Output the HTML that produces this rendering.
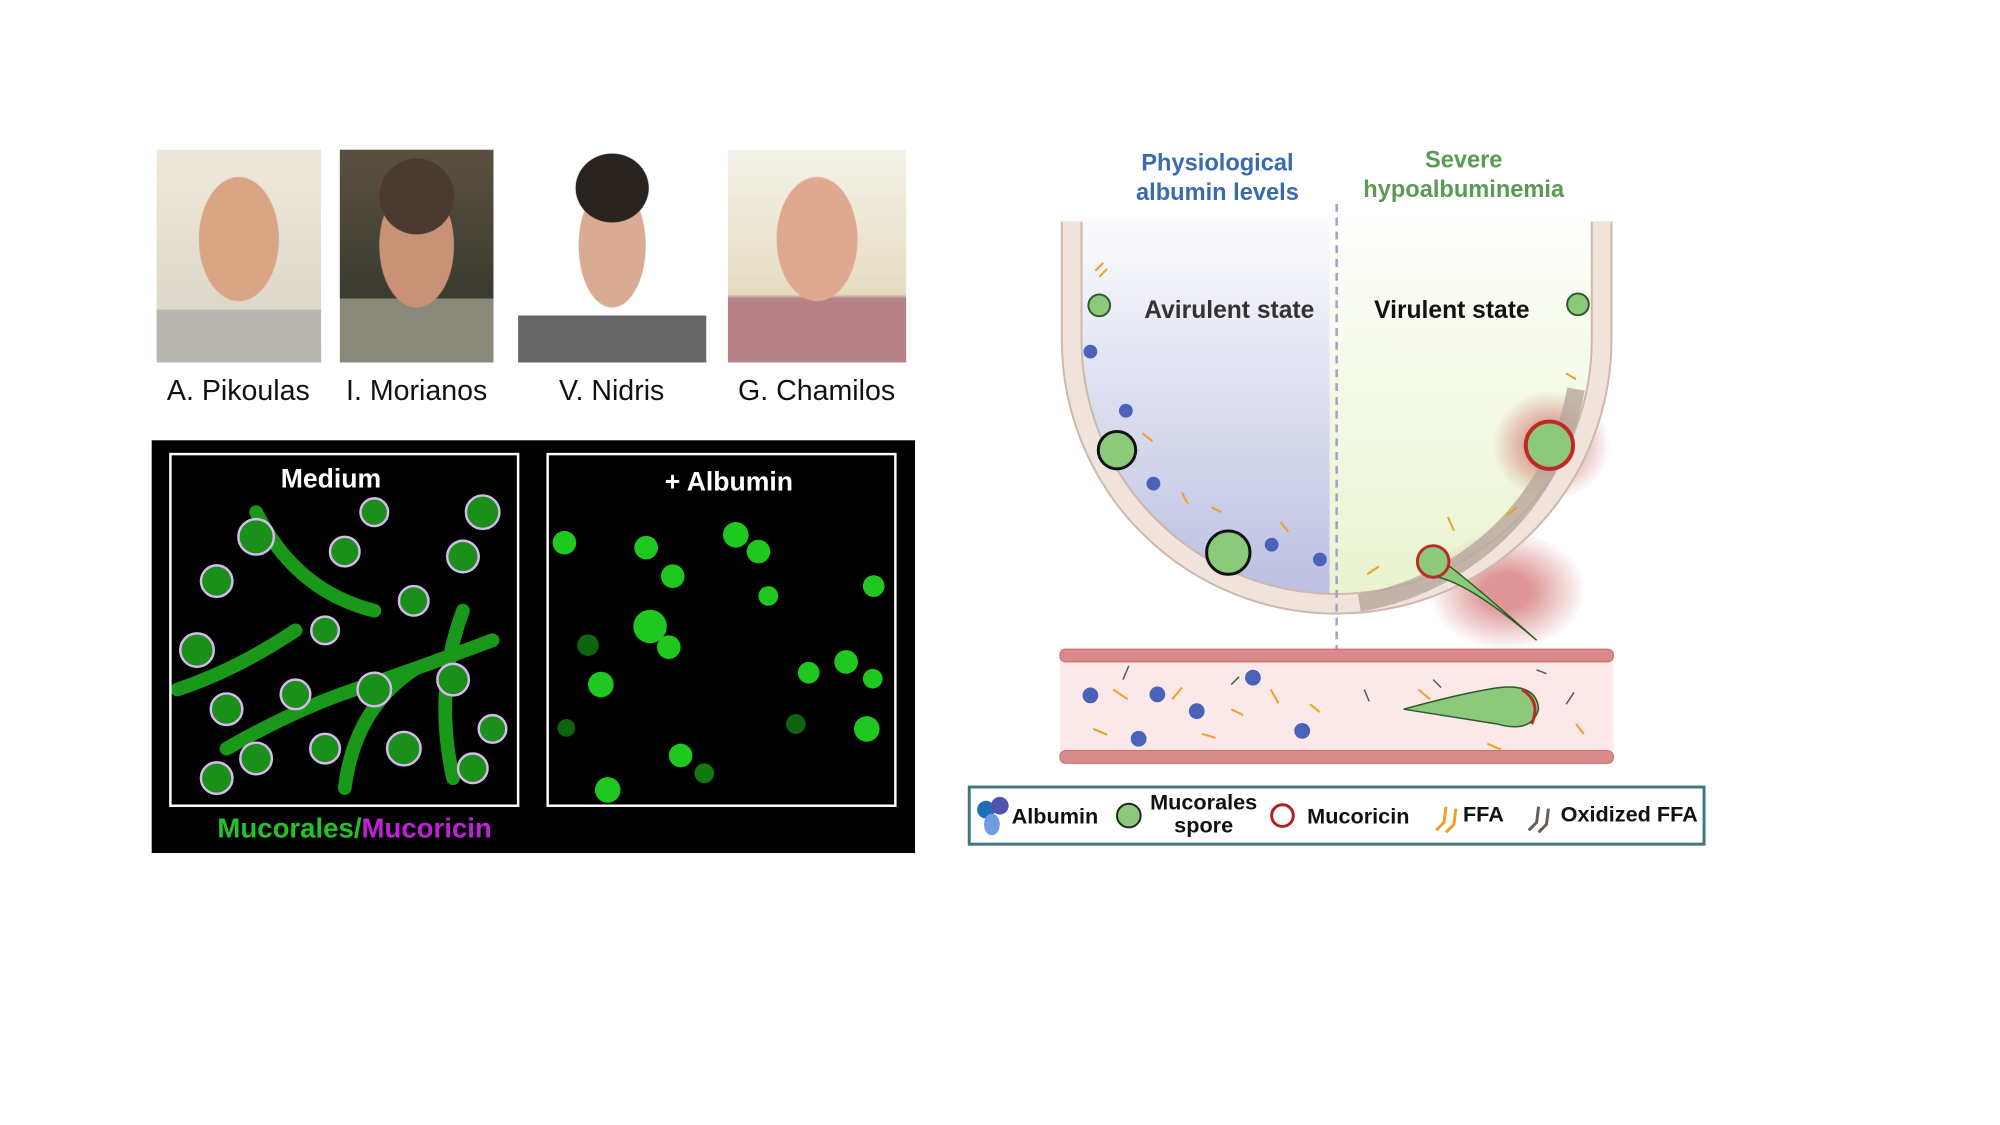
<!DOCTYPE html>
<html><head><meta charset="utf-8"><style>
body{margin:0;width:2000px;height:1125px;background:#fff;overflow:hidden;position:relative;font-family:"Liberation Sans",Arial,sans-serif}
#w{position:absolute;left:0;top:0;width:2000px;height:1125px;transform:scale(0.985);transform-origin:0 0}
.ph{position:absolute;top:152px;height:216px}
.nm{position:absolute;top:381px;font-size:29px;color:#111;transform:translateX(-50%);white-space:nowrap}
</style></head><body><div id="w">
<div class="ph" style="left:159px;width:167px;background:radial-gradient(ellipse 30% 36% at 50% 42%,#d9a585 0 80%,transparent 82%),linear-gradient(180deg,transparent 75%,#b9b6b0 75%),linear-gradient(#efe8da,#d8d2c8)"></div>
<div class="ph" style="left:345px;width:156px;background:radial-gradient(ellipse 30% 22% at 50% 22%,#4a3a30 0 80%,transparent 82%),radial-gradient(ellipse 30% 36% at 50% 45%,#c99277 0 80%,transparent 82%),linear-gradient(#5a5040,#3a3a30 70%,#8a8878 70%)"></div>
<div class="ph" style="left:526px;width:191px;background:radial-gradient(ellipse 24% 20% at 50% 18%,#2a2420 0 80%,transparent 82%),radial-gradient(ellipse 22% 36% at 50% 45%,#d8ab92 0 80%,transparent 82%),linear-gradient(#fff 78%,#666 78%)"></div>
<div class="ph" style="left:739px;width:181px;background:radial-gradient(ellipse 28% 36% at 50% 42%,#e0a88e 0 80%,transparent 82%),linear-gradient(#f4f2ea,#e5dcc0 68%,#b58086 70%)"></div>
<div class="nm" style="left:242px">A. Pikoulas</div>
<div class="nm" style="left:423px">I. Morianos</div>
<div class="nm" style="left:621px">V. Nidris</div>
<div class="nm" style="left:829px">G. Chamilos</div>

<svg style="position:absolute;left:0;top:0" width="2000" height="1125">
<rect x="154" y="447" width="775" height="419" fill="#000"/>
<g stroke="#1fb31f" stroke-width="14" fill="none" stroke-linecap="round" opacity="0.85">
<path d="M230 760 Q300 720 360 700 T500 650"/><path d="M260 520 Q300 600 380 620"/><path d="M350 800 Q360 720 420 680"/><path d="M180 700 Q240 680 300 640"/><path d="M470 620 Q440 700 460 790"/>
</g>
<g fill="#1a8f1a" stroke="#d9b8f0" stroke-width="2.5">
<circle cx="260" cy="545" r="18"/><circle cx="220" cy="590" r="16"/><circle cx="350" cy="560" r="15"/><circle cx="490" cy="520" r="17"/><circle cx="470" cy="565" r="16"/><circle cx="420" cy="610" r="15"/><circle cx="330" cy="640" r="14"/><circle cx="200" cy="660" r="17"/><circle cx="230" cy="720" r="16"/><circle cx="300" cy="705" r="15"/><circle cx="380" cy="700" r="17"/><circle cx="460" cy="690" r="16"/><circle cx="260" cy="770" r="16"/><circle cx="330" cy="760" r="15"/><circle cx="410" cy="760" r="17"/><circle cx="480" cy="780" r="15"/><circle cx="220" cy="790" r="16"/><circle cx="380" cy="520" r="14"/><circle cx="500" cy="740" r="14"/>
</g>
<g fill="#1ec81e">
<circle cx="573" cy="551" r="12"/><circle cx="656" cy="556" r="12"/><circle cx="747" cy="543" r="13"/><circle cx="770" cy="560" r="12"/><circle cx="683" cy="585" r="12"/><circle cx="660" cy="636" r="17"/><circle cx="679" cy="657" r="12"/><circle cx="780" cy="605" r="10"/><circle cx="887" cy="595" r="11"/><circle cx="859" cy="672" r="12"/><circle cx="610" cy="695" r="13"/><circle cx="821" cy="683" r="11"/><circle cx="886" cy="689" r="10"/><circle cx="691" cy="767" r="12"/><circle cx="880" cy="740" r="13"/><circle cx="617" cy="802" r="13"/><circle cx="715" cy="785" r="10" opacity=".6"/><circle cx="597" cy="655" r="11" opacity=".5"/><circle cx="808" cy="735" r="10" opacity=".5"/><circle cx="575" cy="739" r="9" opacity=".5"/>
</g>
<rect x="173" y="461" width="353" height="357" fill="none" stroke="#fff" stroke-width="2.5"/>
<rect x="556" y="461" width="353" height="357" fill="none" stroke="#fff" stroke-width="2.5"/>
<text x="336" y="495" fill="#fff" font-size="27" font-weight="bold" text-anchor="middle">Medium</text>
<text x="740" y="498" fill="#fff" font-size="27" font-weight="bold" text-anchor="middle">+ Albumin</text>
<text x="360" y="850" font-size="28" font-weight="bold" text-anchor="middle"><tspan fill="#22c322">Mucorales/</tspan><tspan fill="#c020d8">Mucoricin</tspan></text>

<defs>
<linearGradient id="lg" x1="0" y1="0" x2="0" y2="1"><stop offset="0" stop-color="#fff"/><stop offset="1" stop-color="#b9bde0"/></linearGradient>
<linearGradient id="rg" x1="0" y1="0" x2="0" y2="1"><stop offset="0" stop-color="#fff"/><stop offset="1" stop-color="#e8f3cc"/></linearGradient>
<radialGradient id="halo"><stop offset="0.3" stop-color="#c85050" stop-opacity=".6"/><stop offset="1" stop-color="#c85050" stop-opacity="0"/></radialGradient>
<clipPath id="bowl"><path d="M1088 220 L1088 345 A269 268 0 0 0 1626 345 L1626 220 Z"/></clipPath>
</defs>
<g clip-path="url(#bowl)"><rect x="1080" y="200" width="270" height="420" fill="url(#lg)"/><rect x="1350" y="200" width="290" height="420" fill="url(#rg)"/></g>
<ellipse cx="1530" cy="600" rx="80" ry="60" fill="url(#halo)"/>
<ellipse cx="1575" cy="452" rx="60" ry="55" fill="url(#halo)"/>
<path d="M1088 225 L1088 345 A269 268 0 0 0 1626 345 L1626 225" fill="none" stroke="#ccb8ac" stroke-width="22"/>
<path d="M1088 225 L1088 345 A269 268 0 0 0 1626 345 L1626 225" fill="none" stroke="#efe3dc" stroke-width="18"/>
<path d="M1600 395 A269 268 0 0 1 1380 612" fill="none" stroke="#b8a79d" stroke-width="18" opacity=".8"/>
<line x1="1357" y1="207" x2="1357" y2="775" stroke="#a89cc8" stroke-width="2.5" stroke-dasharray="8,6"/>
<text x="1236" y="173" fill="#3a6bb0" font-size="24" font-weight="bold" text-anchor="middle">Physiological</text>
<text x="1236" y="203" fill="#3a6bb0" font-size="24" font-weight="bold" text-anchor="middle">albumin levels</text>
<text x="1486" y="170" fill="#5a9a55" font-size="24" font-weight="bold" text-anchor="middle">Severe</text>
<text x="1486" y="200" fill="#5a9a55" font-size="24" font-weight="bold" text-anchor="middle">hypoalbuminemia</text>
<text x="1248" y="323" fill="#333" font-size="25" font-weight="bold" text-anchor="middle">Avirulent state</text>
<text x="1474" y="323" fill="#111" font-size="25" font-weight="bold" text-anchor="middle">Virulent state</text>
<g fill="#8cc97a" stroke="#2d5a2a" stroke-width="2">
<circle cx="1116" cy="310" r="11"/><circle cx="1602" cy="309" r="11"/>
<circle cx="1134" cy="457" r="19" stroke="#111" stroke-width="3"/><circle cx="1247" cy="561" r="22" stroke="#111" stroke-width="3"/>
</g>
<circle cx="1573" cy="452" r="24" fill="#8cc97a" stroke="#c02828" stroke-width="4"/>
<path d="M1450 560 Q1470 570 1560 650 Q1490 590 1455 585 Q1430 575 1450 560Z" fill="#8cc97a" stroke="#2d5a2a" stroke-width="1.5"/>
<circle cx="1455" cy="570" r="16" fill="#8cc97a" stroke="#c02828" stroke-width="3"/>
<g fill="#4a62b8"><circle cx="1107" cy="357" r="7"/><circle cx="1143" cy="417" r="7"/><circle cx="1171" cy="491" r="7"/><circle cx="1291" cy="553" r="7"/><circle cx="1340" cy="568" r="7"/></g>
<g stroke="#f0a020" stroke-width="2" fill="none"><path d="M1112 275 l8 -8 m-4 14 l8 -8"/><path d="M1160 440 l10 8"/><path d="M1200 500 l6 12"/><path d="M1230 515 l10 5"/><path d="M1300 530 l8 10"/><path d="M1400 575 l-12 8"/><path d="M1470 525 l6 14"/><path d="M1540 515 l-10 8"/><path d="M1600 385 l-10 -6"/></g>
<ellipse cx="1465" cy="720" rx="90" ry="45" fill="url(#halo)"/>
<rect x="1076" y="659" width="562" height="116" fill="#fbe8e8"/>
<rect x="1076" y="659" width="562" height="13" rx="6" fill="#d98b8b" stroke="#c66" stroke-width="1"/>
<rect x="1076" y="762" width="562" height="13" rx="6" fill="#d98b8b" stroke="#c66" stroke-width="1"/>
<path d="M1425 720 Q1480 705 1510 700 Q1560 690 1562 720 Q1555 745 1520 735 Q1470 727 1425 720Z" fill="#8cc97a" stroke="#2d5a2a" stroke-width="1.5"/>
<path d="M1545 700 Q1565 712 1555 735" fill="none" stroke="#c02828" stroke-width="3"/>
<g fill="#4a62b8"><circle cx="1107" cy="706" r="8"/><circle cx="1175" cy="705" r="8"/><circle cx="1215" cy="722" r="8"/><circle cx="1156" cy="750" r="8"/><circle cx="1272" cy="688" r="8"/><circle cx="1322" cy="742" r="8"/></g>
<g stroke="#f0a020" stroke-width="2"><path d="M1130 700 l15 10 M1190 710 l10 -12 M1250 720 l12 6 M1290 700 l8 14 M1330 715 l10 8 M1220 745 l14 4 M1110 740 l14 6 M1440 700 l12 10 M1510 755 l14 6 M1600 735 l8 10"/></g>
<g stroke="#555" stroke-width="1.5"><path d="M1140 690 l6 -14 M1250 695 l8 -8 M1385 700 l5 12 M1455 690 l8 8 M1560 680 l10 4 M1590 715 l8 -12"/></g>
<rect x="984" y="799" width="746" height="58" fill="#fff" stroke="#3f7a78" stroke-width="3"/>
<circle cx="1001" cy="822" r="9" fill="#1f6fb8"/><circle cx="1015" cy="818" r="9" fill="#4d55b0"/><ellipse cx="1007" cy="837" rx="8" ry="11" fill="#6f9be0"/>
<circle cx="1146" cy="828" r="12" fill="#8cc97a" stroke="#222" stroke-width="2"/>
<circle cx="1302" cy="828" r="11" fill="#fff" stroke="#b02020" stroke-width="3"/>
<path d="M1458 843 l8 -8 l2 -16 M1468 845 l8 -8 l2 -16" stroke="#f0a020" stroke-width="3" fill="none"/>
<path d="M1552 843 l8 -8 l2 -16 M1562 845 l8 -8 l2 -16" stroke="#6a5a58" stroke-width="3" fill="none"/>
<g font-size="22" font-weight="bold" fill="#111" text-anchor="middle">
<text x="1071" y="836">Albumin</text>
<text x="1222" y="822">Mucorales</text><text x="1222" y="845">spore</text>
<text x="1379" y="836">Mucoricin</text>
<text x="1506" y="834">FFA</text>
<text x="1654" y="834">Oxidized FFA</text>
</g>
</svg>
</div></body></html>
